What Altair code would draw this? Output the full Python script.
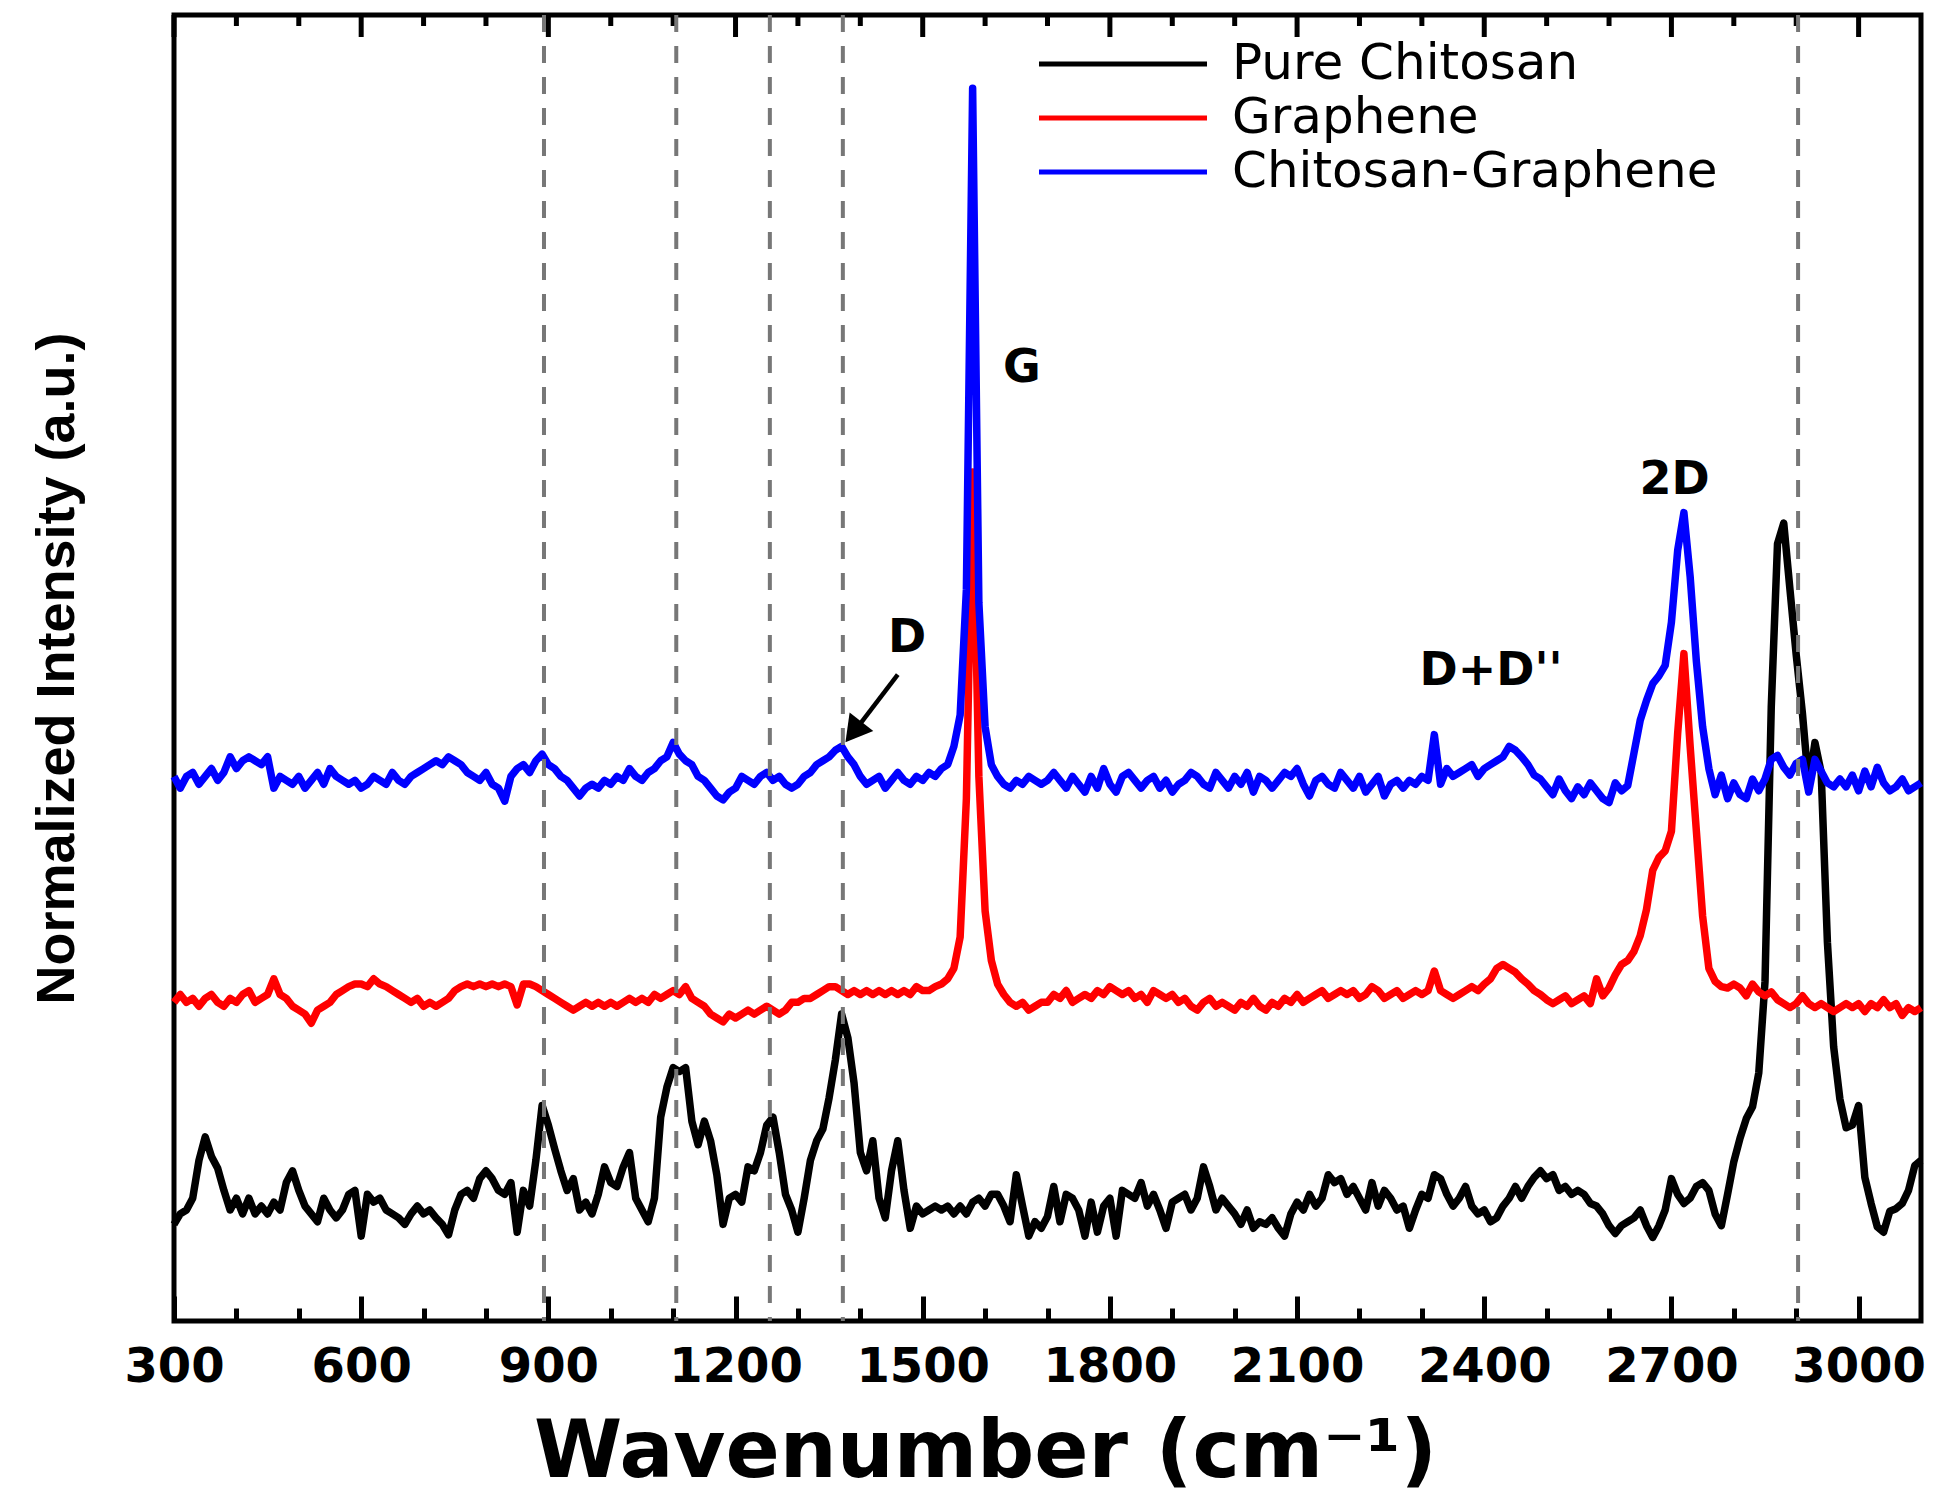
import altair as alt
import pandas as pd

# x grid (wavenumber, cm^-1)
WAVENUMBER = list(range(300, 3101, 10))

PURE_CHITOSAN = [
    7.4, 8.2, 8.5, 9.4, 12.3, 14.1, 12.6, 11.7, 10.0, 8.5,
    9.4, 8.2, 9.4, 8.2, 8.8, 8.2, 9.1, 8.5, 10.6, 11.5,
    10.0, 8.8, 8.2, 7.6, 9.4, 8.5, 7.9, 8.5, 9.7, 10.0,
    6.5, 9.7, 9.1, 9.4, 8.5, 8.2, 7.9, 7.4, 8.2, 8.8,
    8.2, 8.5, 7.9, 7.4, 6.6, 8.5, 9.7, 10.0, 9.4, 10.9,
    11.5, 10.9, 10.0, 9.7, 10.6, 6.8, 10.0, 8.8, 12.3, 16.5,
    15.0, 13.2, 11.5, 10.0, 10.9, 8.5, 9.1, 8.2, 9.7, 11.8,
    10.6, 10.3, 11.8, 12.9, 9.4, 8.5, 7.6, 9.4, 15.6, 17.9,
    19.4, 19.1, 19.4, 15.3, 13.5, 15.3, 13.8, 11.2, 7.4, 9.4,
    9.7, 9.1, 11.8, 11.5, 12.9, 15.0, 15.6, 12.9, 9.7, 8.5,
    6.8, 9.4, 12.3, 13.8, 14.7, 17.1, 20.0, 23.5, 21.7, 18.2,
    12.9, 11.5, 13.8, 9.4, 7.9, 11.5, 13.8, 10.0, 7.1, 8.8,
    8.2, 8.5, 8.8, 8.5, 8.8, 8.2, 8.8, 8.2, 9.1, 9.4,
    8.8, 9.7, 9.7, 8.8, 7.6, 11.2, 8.8, 6.5, 7.6, 7.1,
    8.0, 10.3, 7.6, 9.7, 9.4, 8.5, 6.5, 9.1, 6.8, 8.8,
    9.4, 6.5, 10.0, 9.7, 9.4, 10.6, 8.8, 9.7, 8.5, 7.1,
    9.1, 9.4, 9.7, 8.5, 9.4, 11.8, 10.3, 8.5, 9.4, 8.8,
    8.2, 7.4, 8.5, 7.1, 7.6, 7.4, 7.9, 7.1, 6.5, 8.2,
    9.1, 8.5, 9.7, 8.8, 9.4, 11.2, 10.6, 10.9, 9.7, 10.3,
    9.4, 8.5, 10.6, 8.8, 10.0, 9.4, 8.5, 8.8, 7.1, 8.5,
    9.7, 9.4, 11.2, 10.9, 9.7, 8.8, 9.4, 10.3, 8.8, 8.2,
    8.5, 7.6, 7.9, 8.8, 9.4, 10.3, 9.4, 10.3, 11.0, 11.5,
    10.9, 11.2, 10.0, 10.3, 9.7, 10.0, 9.7, 9.0, 8.8, 8.2,
    7.3, 6.7, 7.3, 7.6, 7.9, 8.5, 7.3, 6.4, 7.3, 8.5,
    10.9, 9.7, 9.0, 9.4, 10.3, 10.6, 10.0, 8.2, 7.3, 9.7,
    12.2, 14.0, 15.5, 16.4, 19.0, 26.0, 47.0, 59.5, 61.1, 56.0,
    51.0, 46.5, 41.0, 44.3, 42.0, 29.0, 21.0, 17.0, 14.8, 15.0,
    16.5, 11.0, 9.0, 7.2, 6.8, 8.4, 8.6, 9.0, 10.0, 11.9,
    12.3,
]

GRAPHENE = [
    24.4, 25.0, 24.4, 24.7, 24.1, 24.7, 25.0, 24.4, 24.1, 24.7,
    24.4, 25.0, 25.3, 24.4, 24.7, 25.0, 26.2, 25.0, 24.7, 24.1,
    23.8, 23.5, 22.8, 23.8, 24.1, 24.4, 25.0, 25.3, 25.6, 25.8,
    25.8, 25.6, 26.2, 25.8, 25.6, 25.3, 25.0, 24.7, 24.4, 24.7,
    24.1, 24.4, 24.1, 24.4, 24.7, 25.3, 25.6, 25.8, 25.6, 25.8,
    25.6, 25.8, 25.6, 25.8, 25.6, 24.2, 25.8, 25.8, 25.6, 25.3,
    25.0, 24.7, 24.4, 24.1, 23.8, 24.1, 24.4, 24.1, 24.4, 24.1,
    24.4, 24.1, 24.4, 24.7, 24.4, 24.7, 24.4, 25.0, 24.7, 25.0,
    25.3, 25.0, 25.6, 24.7, 24.4, 24.1, 23.5, 23.2, 22.9, 23.5,
    23.2, 23.5, 23.8, 23.5, 23.8, 24.1, 23.8, 23.5, 23.8, 24.4,
    24.4, 24.7, 24.7, 25.0, 25.3, 25.6, 25.6, 25.3, 25.0, 25.3,
    25.0, 25.3, 25.0, 25.3, 25.0, 25.3, 25.0, 25.3, 25.0, 25.6,
    25.3, 25.3, 25.6, 25.8, 26.2, 27.0, 29.4, 40.0, 65.0, 41.7,
    31.4, 27.6, 25.8, 25.0, 24.4, 24.1, 24.4, 23.8, 24.1, 24.4,
    24.4, 25.0, 24.7, 25.3, 24.4, 24.7, 25.0, 24.7, 25.3, 25.0,
    25.6, 25.3, 25.0, 25.3, 24.7, 25.0, 24.4, 25.3, 25.0, 24.7,
    25.0, 24.4, 24.7, 24.1, 23.8, 24.4, 24.7, 24.1, 24.4, 24.1,
    23.8, 24.4, 24.1, 24.7, 24.1, 23.8, 24.4, 24.1, 24.7, 24.4,
    25.0, 24.4, 24.7, 25.0, 25.3, 24.7, 25.0, 25.3, 25.0, 25.3,
    24.7, 25.0, 25.6, 25.3, 24.7, 25.0, 25.3, 24.7, 25.0, 25.3,
    25.0, 25.3, 26.8, 25.3, 25.0, 24.7, 25.0, 25.3, 25.6, 25.3,
    25.8, 26.2, 27.0, 27.3, 27.0, 26.7, 26.2, 25.8, 25.3, 25.0,
    24.6, 24.3, 24.6, 24.9, 24.3, 24.6, 24.9, 24.3, 26.2, 24.9,
    25.5, 26.5, 27.3, 27.6, 28.3, 29.5, 31.5, 34.5, 35.5, 36.0,
    37.5, 45.0, 51.1, 44.0, 37.5, 31.0, 27.0, 26.0, 25.6, 25.5,
    25.8, 25.5, 24.9, 25.8, 25.2, 24.9, 25.2, 24.6, 24.3, 24.0,
    24.3, 24.9, 24.3, 24.0, 24.3, 24.0, 23.7, 24.0, 24.3, 24.0,
    24.3, 23.7, 24.3, 24.0, 24.6, 24.0, 24.3, 23.4, 24.0, 23.7,
    24.0,
]

CHITOSAN_GRAPHENE = [
    41.7, 40.8, 41.7, 42.0, 41.1, 41.7, 42.3, 41.4, 42.0, 43.2,
    42.3, 42.9, 43.2, 42.9, 42.6, 43.2, 40.8, 41.7, 41.4, 41.1,
    41.7, 40.8, 41.4, 42.0, 41.1, 42.3, 41.7, 41.4, 41.1, 41.4,
    40.8, 41.1, 41.7, 41.4, 41.1, 42.0, 41.4, 41.1, 41.7, 42.0,
    42.3, 42.6, 42.9, 42.6, 43.2, 42.9, 42.6, 42.0, 41.7, 41.4,
    42.0, 41.1, 40.8, 39.8, 41.7, 42.3, 42.6, 42.0, 42.9, 43.4,
    42.6, 42.3, 41.7, 41.4, 40.8, 40.2, 40.8, 41.1, 40.8, 41.4,
    41.1, 41.7, 41.4, 42.3, 41.7, 41.4, 42.0, 42.3, 42.9, 43.2,
    44.3, 43.4, 42.9, 42.6, 41.7, 41.4, 40.8, 40.2, 39.9, 40.5,
    40.8, 41.7, 41.4, 41.1, 41.7, 42.0, 41.4, 41.7, 41.1, 40.8,
    41.1, 41.7, 42.0, 42.6, 42.9, 43.2, 43.7, 44.0, 43.2, 42.6,
    41.7, 41.1, 41.4, 41.7, 40.8, 41.4, 42.0, 41.4, 41.1, 41.7,
    41.4, 42.0, 41.7, 42.3, 42.6, 44.0, 46.4, 56.0, 94.4, 55.0,
    45.5, 42.6, 41.7, 41.1, 40.8, 41.4, 41.1, 41.7, 41.4, 41.1,
    41.4, 42.0, 41.4, 40.8, 41.7, 41.1, 40.5, 41.7, 40.8, 42.3,
    41.1, 40.5, 41.7, 42.0, 41.4, 40.8, 41.4, 41.7, 40.8, 41.4,
    40.5, 41.1, 41.4, 42.0, 41.7, 41.1, 40.8, 42.0, 41.4, 40.8,
    41.7, 41.1, 42.0, 40.5, 41.7, 41.4, 40.8, 41.4, 42.0, 41.7,
    42.3, 41.1, 40.2, 41.4, 41.7, 41.1, 40.8, 42.0, 41.4, 40.8,
    41.7, 40.5, 41.1, 41.7, 40.2, 41.1, 41.4, 40.8, 41.4, 41.1,
    41.7, 41.4, 44.9, 41.1, 42.3, 41.7, 42.0, 42.3, 42.6, 41.7,
    42.3, 42.6, 42.9, 43.2, 44.0, 43.7, 43.2, 42.6, 41.8, 41.5,
    40.9, 40.3, 41.5, 40.6, 40.0, 40.9, 40.3, 41.2, 40.6, 40.0,
    39.7, 41.2, 40.6, 41.0, 43.5, 46.0, 47.5, 48.8, 49.4, 50.2,
    53.5, 59.0, 61.9, 57.0, 50.5, 45.5, 42.3, 40.3, 41.8, 40.0,
    41.2, 40.3, 40.0, 41.5, 40.6, 41.5, 43.0, 43.3, 42.4, 41.8,
    42.7, 43.0, 40.5, 43.0, 42.1, 41.2, 40.9, 41.5, 40.9, 41.8,
    40.6, 42.1, 40.9, 42.4, 41.2, 40.6, 40.9, 41.5, 40.6, 40.9,
    41.2,
]

SERIES_NAMES = ["Pure Chitosan", "Graphene", "Chitosan-Graphene"]
SERIES_COLORS = ["#000000", "#ff0000", "#0000ff"]

MAJOR_TICKS = [300, 600, 900, 1200, 1500, 1800, 2100, 2400, 2700, 3000]
MINOR_TICKS = [400, 500, 700, 800, 1000, 1100, 1300, 1400, 1600, 1700,
               1900, 2000, 2200, 2300, 2500, 2600, 2800, 2900]

DASHED_LINES = [893, 1105, 1255, 1372, 2903]

PEAK_LABELS = ["G", "D", "2D", "D+D''"]
PEAK_LABEL_X = [1659, 1475, 2705, 2411]
PEAK_LABEL_Y = [73.0, 52.3, 64.4, 49.8]

ARROW_X1 = [1460]
ARROW_Y1 = [49.5]
ARROW_X2 = [1393]
ARROW_Y2 = [45.3]
ARROW_HEAD_X = [1389]
ARROW_HEAD_Y = [45.1]

PLOT_W = 1747
PLOT_H = 1306

rows = []
for name, vals in zip(SERIES_NAMES, [PURE_CHITOSAN, GRAPHENE, CHITOSAN_GRAPHENE]):
    for w, v in zip(WAVENUMBER, vals):
        rows.append({"wavenumber": w, "intensity": v, "sample": name})
df = pd.DataFrame(rows)

xs = alt.Scale(domain=[300, 3100], nice=False, zero=False)
ys = alt.Scale(domain=[0, 100], nice=False, zero=False)

Y_AXIS = alt.Axis(
    labels=False, ticks=False, domain=True, domainOpacity=0, grid=False,
    title="Normalized Intensity (a.u.)", titleFont="Liberation Sans",
    titleFontWeight="bold", titleFontSize=54, titleColor="black",
    titlePadding=90)


def tick_axis(offset, values, size):
    # bottom-oriented axis used only for inward tick marks
    return alt.Axis(orient="bottom", offset=offset, values=values, labels=False,
                    domain=False, grid=False, ticks=True, tickSize=size,
                    tickWidth=5, tickColor="black", title=None)


# inward ticks along the top frame
top_major = alt.Chart(pd.DataFrame({"tick": MAJOR_TICKS})).mark_rule(
    color="black", strokeWidth=5
).encode(
    x=alt.X("tick:Q", scale=xs, axis=None),
    y=alt.value(0),
    y2=alt.value(22),
)
top_minor = alt.Chart(pd.DataFrame({"tick": MINOR_TICKS})).mark_rule(
    color="black", strokeWidth=5
).encode(
    x=alt.X("tick:Q", scale=xs, axis=None),
    y=alt.value(0),
    y2=alt.value(11),
)

lines = alt.Chart(df).mark_line(strokeWidth=7.5, strokeJoin="round").encode(
    x=alt.X("wavenumber:Q", scale=xs, axis=alt.Axis(
        orient="bottom", values=MAJOR_TICKS, format="d",
        labelFont="DejaVu Sans", labelFontWeight="bold", labelFontSize=48,
        labelColor="black", labelPadding=22, labelFlush=False, labelOverlap=False,
        ticks=False, tickSize=0, domain=False, grid=False,
        title="Wavenumber (cm\u207b\u00b9)", titleFont="DejaVu Sans",
        titleFontWeight="bold", titleFontSize=80, titleColor="black",
        titlePadding=22, titleX=811, titleAlign="center")),
    y=alt.Y("intensity:Q", scale=ys, axis=Y_AXIS),
    color=alt.Color("sample:N", title=None,
                    scale=alt.Scale(domain=SERIES_NAMES, range=SERIES_COLORS),
                    legend=alt.Legend(orient="none", legendX=920, legendY=20,
                                      symbolType="M-3.17,0H3.17", symbolSize=2809,
                                      symbolStrokeWidth=5, labelFont="DejaVu Sans",
                                      labelFontSize=50, labelColor="black",
                                      labelOffset=80, labelLimit=1000,
                                      rowPadding=0, padding=0)),
)

dash = alt.Chart(pd.DataFrame({"wavenumber": DASHED_LINES})).mark_rule(
    color="#777777", strokeWidth=4, strokeDash=[17, 14]
).encode(
    x=alt.X("wavenumber:Q", scale=xs, axis=tick_axis(-25, MAJOR_TICKS, 25)),
)

ann = alt.Chart(pd.DataFrame({"label": PEAK_LABELS, "x": PEAK_LABEL_X, "y": PEAK_LABEL_Y})).mark_text(
    font="DejaVu Sans", fontWeight="bold", fontSize=46, color="black"
).encode(
    x=alt.X("x:Q", scale=xs, axis=tick_axis(-13, MINOR_TICKS, 13)),
    y=alt.Y("y:Q", scale=ys, axis=Y_AXIS),
    text="label:N",
)

arrow = alt.Chart(pd.DataFrame({"x1": ARROW_X1, "y1": ARROW_Y1, "x2": ARROW_X2, "y2": ARROW_Y2})).mark_rule(
    color="black", strokeWidth=4.5
).encode(
    x=alt.X("x1:Q", scale=xs, axis=None),
    y=alt.Y("y1:Q", scale=ys, axis=Y_AXIS),
    x2="x2:Q",
    y2="y2:Q",
)

head = alt.Chart(pd.DataFrame({"x": ARROW_HEAD_X, "y": ARROW_HEAD_Y})).mark_point(
    shape="triangle-up", filled=True, color="black", opacity=1, size=900, angle=218
).encode(
    x=alt.X("x:Q", scale=xs, axis=None),
    y=alt.Y("y:Q", scale=ys, axis=Y_AXIS),
)

chart = alt.layer(top_major, top_minor, lines, dash, ann, arrow, head).resolve_axis(
    x="independent"
).properties(
    width=PLOT_W, height=PLOT_H,
    autosize=alt.AutoSizeParams(type="none"),
    padding={"left": 166, "top": 7, "right": 8, "bottom": 174},
).configure_view(stroke="black", strokeWidth=5)

chart.save("out.html", embed_options={"renderer": "svg", "actions": False})
